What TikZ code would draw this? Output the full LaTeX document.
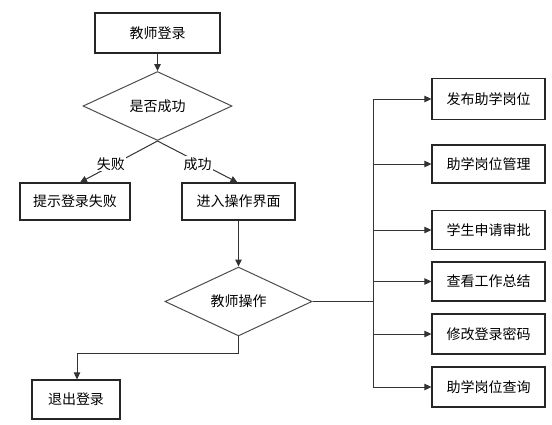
\documentclass[tikz,border=0pt]{standalone}
\usepackage{fontspec}
\setmainfont{Noto Sans CJK SC}
\usetikzlibrary{shapes.geometric,arrows.meta,calc}
\tikzset{
  box/.style={draw=black!85,line width=1.2pt,rectangle,inner sep=0pt,minimum width=113pt,minimum height=39pt,font=\fontsize{14}{16}\selectfont},
  dia/.style={draw=black!70,line width=1pt,diamond,inner sep=0pt,font=\fontsize{14}{16}\selectfont},
  conn/.style={draw=black!80,line width=1pt},
  arr/.style={conn,-{Triangle[length=7pt,width=6.5pt]}},
  lab/.style={fill=white,inner sep=1pt,font=\fontsize{14}{16}\selectfont}
}
\begin{document}
\begin{tikzpicture}[x=1pt,y=-1pt]
\useasboundingbox (0,0) rectangle (552,424);
\node[box,minimum width=125pt,minimum height=40pt] (login) at (157.5,33) {教师登录};
\node[dia,minimum width=149pt,minimum height=52pt] (d1) at (157.5,106) {是否成功};
\node[box,minimum width=110pt,minimum height=37pt] (fail) at (75,201.5) {提示登录失败};
\node[box,minimum width=113pt,minimum height=37pt] (enter) at (238.5,201.5) {进入操作界面};
\node[dia,minimum width=147pt,minimum height=53pt] (d2) at (238.5,301.5) {教师操作};
\node[box,minimum width=88pt,minimum height=39pt] (logout) at (76,399.5) {退出登录};
\node[box,minimum height=41pt] (r1) at (488.5,99) {发布助学岗位};
\node[box,minimum height=38pt] (r2) at (488.5,164) {助学岗位管理};
\node[box] (r3) at (488.5,230) {学生申请审批};
\node[box] (r4) at (488.5,281.5) {查看工作总结};
\node[box,minimum height=40pt] (r5) at (488.5,334) {修改登录密码};
\node[box,minimum height=40pt] (r6) at (488.5,387) {助学岗位查询};
\draw[arr] (login) -- (d1);
\draw[arr] (d1.south) -- node[lab,pos=0.55,xshift=-4pt] {失败} ([xshift=5pt]fail.north);
\draw[arr] (d1.south) -- node[lab,pos=0.55,xshift=-4pt] {成功} ([xshift=-1pt]enter.north);
\draw[arr] (enter) -- (d2);
\coordinate (k1) at (238.5,353);
\draw[arr] (d2.south) -- (k1) -| ([xshift=1pt]logout.north);
\coordinate (bus) at (373,301.5);
\draw[conn] (d2.east) -- (bus);
\draw[conn] (bus |- r1.west) -- (bus |- r6.west);
\foreach \r in {r1,r2,r3,r4,r5,r6}
  \draw[arr] (bus |- \r.west) -- (\r.west);
\end{tikzpicture}
\end{document}
